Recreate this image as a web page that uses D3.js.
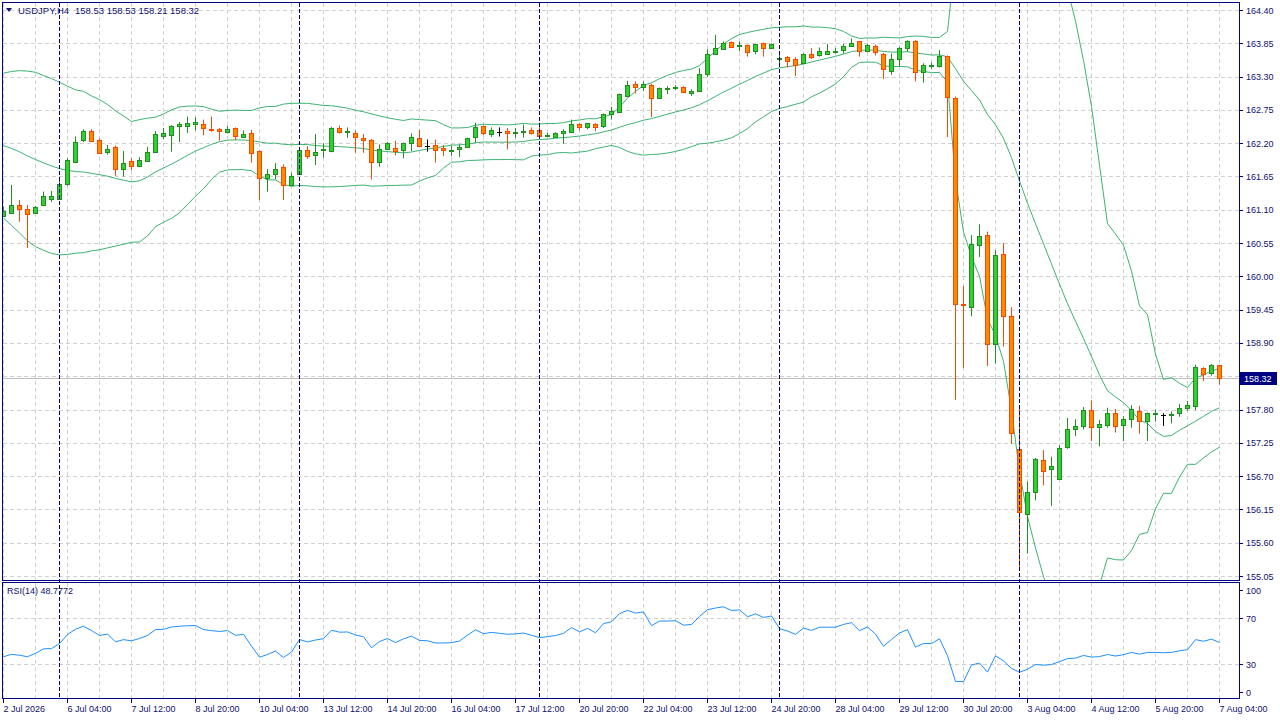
<!DOCTYPE html>
<html>
<head>
<meta charset="utf-8">
<title>USDJPY,H4</title>
<script src="https://cdnjs.cloudflare.com/ajax/libs/d3/7.8.5/d3.min.js"></script>
<style>
    html, body { margin: 0; padding: 0; background: #fff; }
    svg { display: block; }
    text { font-family: "Liberation Sans", Arial, sans-serif; font-size: 9px; fill: #10106e; }
    text.head { font-size: 9.5px; }
</style>
</head>
<body>
<svg id="chart" width="1280" height="720"></svg>
<script>
// H4 bars from 2 Jul 20:00 to 7 Aug 04:00
var opens = [160.99,161.04,161.18,161.11,161.04,161.18,161.28,161.27,161.52,161.89,
    162.25,162.40,162.26,162.06,162.14,161.78,161.90,161.83,161.91,162.06,
    162.32,162.33,162.49,162.49,162.51,162.52,162.43,162.43,162.39,162.45,
    162.30,162.36,162.07,161.62,161.69,161.80,161.51,161.69,162.08,162.00,
    162.08,162.07,162.45,162.38,162.36,162.29,162.26,161.89,162.11,162.12,
    162.09,162.21,162.28,162.15,162.17,162.12,162.08,162.10,162.13,162.30,
    162.48,162.35,162.39,162.40,162.37,162.39,162.42,162.42,162.32,162.31,
    162.36,162.39,162.52,162.46,162.52,162.49,162.69,162.72,162.98,163.17,
    163.12,163.16,162.95,163.10,163.11,163.12,163.03,163.06,163.34,163.67,
    163.75,163.87,163.81,163.82,163.72,163.85,163.78,163.60,163.62,163.59,
    163.52,163.67,163.65,163.68,163.72,163.74,163.81,163.88,163.73,163.80,
    163.68,163.40,163.59,163.78,163.88,163.38,163.48,163.48,163.64,162.94,
    159.55,159.50,160.51,160.68,158.88,160.37,159.34,157.15,156.08,156.44,
    156.96,156.81,156.66,157.18,157.48,157.53,157.79,157.51,157.54,157.74,
    157.55,157.64,157.78,157.61,157.72,157.71,157.72,157.74,157.83,157.86,
    158.48,158.41,158.53];
var highs = [161.15,161.51,161.26,161.18,161.16,161.40,161.41,161.62,161.95,162.31,
    162.43,162.43,162.28,162.17,162.16,162.07,161.95,161.97,162.14,162.40,
    162.45,162.50,162.55,162.64,162.63,162.59,162.64,162.45,162.48,162.46,
    162.41,162.42,162.08,161.77,161.87,161.85,161.71,162.09,162.15,162.35,
    162.20,162.47,162.49,162.46,162.41,162.35,162.27,162.18,162.22,162.24,
    162.21,162.36,162.42,162.26,162.26,162.17,162.16,162.18,162.29,162.54,
    162.49,162.46,162.46,162.45,162.45,162.51,162.46,162.54,162.37,162.38,
    162.43,162.59,162.53,162.53,162.53,162.69,162.80,163.02,163.23,163.22,
    163.22,163.18,163.12,163.14,163.16,163.14,163.09,163.44,163.75,163.99,
    163.88,163.88,163.88,163.83,163.84,163.86,163.85,163.70,163.64,163.62,
    163.69,163.77,163.78,163.84,163.77,163.84,163.93,163.89,163.84,163.83,
    163.69,163.68,163.79,163.90,163.90,163.52,163.53,163.74,163.65,162.97,
    159.84,160.68,160.86,160.74,160.43,160.55,159.49,157.87,156.61,157.00,
    157.13,157.02,157.21,157.66,157.64,157.84,157.95,157.63,157.83,157.81,
    157.69,157.87,157.86,157.75,157.80,157.74,157.77,157.89,157.94,158.54,
    158.50,158.55,158.53];
var lows = [160.98,161.04,160.90,160.47,161.03,161.18,161.23,161.27,161.50,161.87,
    162.22,162.22,162.02,162.01,161.66,161.65,161.75,161.81,161.91,162.05,
    162.27,162.06,162.22,162.37,162.41,162.33,162.39,162.24,162.36,162.25,
    162.29,161.88,161.26,161.40,161.60,161.26,161.49,161.68,161.94,161.84,
    161.96,162.05,162.36,162.29,162.04,162.04,161.60,161.81,162.10,162.00,
    161.95,162.07,162.13,162.06,161.88,161.99,161.99,161.97,162.12,162.21,
    162.33,162.30,162.31,162.10,162.29,162.29,162.34,162.29,162.30,162.29,
    162.19,162.39,162.41,162.43,162.40,162.45,162.59,162.70,162.96,163.02,
    163.06,162.63,162.94,163.01,163.08,163.03,162.98,163.05,163.29,163.66,
    163.74,163.78,163.72,163.63,163.67,163.63,163.78,163.49,163.45,163.31,
    163.50,163.59,163.63,163.66,163.68,163.68,163.79,163.63,163.71,163.65,
    163.26,163.33,163.47,163.71,163.22,163.20,163.43,163.45,162.30,157.96,
    158.49,159.34,160.32,158.52,158.56,158.84,157.23,155.19,155.42,156.30,
    156.55,156.21,156.65,157.15,157.36,157.47,157.28,157.19,157.50,157.42,
    157.28,157.50,157.40,157.28,157.60,157.53,157.57,157.68,157.78,157.79,
    158.27,158.36,158.21];
var closes = [161.08,161.18,161.12,161.03,161.15,161.32,161.33,161.52,161.93,162.22,
    162.40,162.24,162.04,162.11,161.78,161.88,161.83,161.93,162.06,162.35,
    162.36,162.48,162.52,162.54,162.55,162.45,162.42,162.40,162.43,162.32,
    162.35,162.04,161.62,161.69,161.78,161.51,161.66,162.08,161.99,162.06,
    162.11,162.45,162.39,162.40,162.31,162.26,161.89,162.10,162.21,162.07,
    162.20,162.30,162.16,162.15,162.08,162.08,162.09,162.13,162.29,162.46,
    162.37,162.41,162.39,162.37,162.38,162.40,162.36,162.32,162.34,162.36,
    162.40,162.52,162.46,162.53,162.47,162.68,162.73,163.01,163.16,163.12,
    163.17,162.95,163.11,163.11,163.12,163.05,163.07,163.34,163.67,163.77,
    163.85,163.79,163.82,163.71,163.84,163.78,163.84,163.61,163.56,163.49,
    163.68,163.63,163.73,163.73,163.73,163.81,163.86,163.73,163.83,163.70,
    163.42,163.59,163.78,163.89,163.38,163.49,163.49,163.64,162.96,159.55,
    159.53,160.53,160.67,158.88,160.35,159.35,157.41,156.10,156.43,156.98,
    156.79,156.86,157.16,157.48,157.53,157.79,157.51,157.56,157.74,157.53,
    157.64,157.81,157.61,157.74,157.74,157.71,157.73,157.82,157.88,158.50,
    158.39,158.53,158.32];
// closes of the 19 bars left of the window, estimated from where the bands start
var priorCloses = [162.10,162.25,162.40,162.30,162.45,162.35,162.39,
    162.50,162.62,162.55,162.70,162.48,162.60,162.52,162.45,162.41,
    161.55,160.85,160.64];

var priceTicks = [164.40,163.85,163.30,162.75,162.20,161.65,161.10,160.55,160.00,
    159.45,158.90,158.35,157.80,157.25,156.70,156.15,155.60,155.05];
var rsiTicks = [100, 70, 30, 0];
var timeLabelBars = [0,8,16,24,32,40,48,56,64,72,80,88,96,104,112,120,128,136,144,152];
var timeLabels = ["2 Jul 2026","6 Jul 04:00","7 Jul 12:00","8 Jul 20:00","10 Jul 04:00",
    "13 Jul 12:00","14 Jul 20:00","16 Jul 04:00","17 Jul 12:00","20 Jul 20:00",
    "22 Jul 04:00","23 Jul 12:00","24 Jul 20:00","28 Jul 04:00","29 Jul 12:00",
    "30 Jul 20:00","3 Aug 04:00","4 Aug 12:00","5 Aug 20:00","7 Aug 04:00"];
var separatorBars = [7, 37, 67, 97, 127];
var headerSymbol = "USDJPY,H4";
var headerPrices = "158.53 158.53 158.21 158.32";
var rsiTitle = "RSI(14) 48.7772";
var bidPrice = 158.32;

(function () {
    var svg = d3.select("#chart");
    var navy = "#000080";
    var gridColor = "#d0d0d0";
    var n = closes.length;

    var x = d3.scaleLinear().domain([0, n - 1]).range([3.5, 1219.5]);
    var y = d3.scaleLinear().domain([155.05, 164.40]).range([576, 10]);
    var rsiY = d3.scaleLinear().domain([0, 100]).range([698.5, 584]);
    // pixel-snapped bar centre
    function px(i) { return Math.floor(x(i)) + 0.5; }

    var bars = d3.range(n).map(function (i) {
        return { i: i, o: opens[i], h: highs[i], l: lows[i], c: closes[i] };
    });

    // Bollinger bands (20, 2) on close
    var all = priorCloses.concat(closes);
    var off = priorCloses.length;
    var bands = bars.map(function (d) {
        var win = all.slice(d.i + off - 19, d.i + off + 1);
        var m = d3.mean(win);
        var sd = Math.sqrt(d3.mean(win, function (v) { return (v - m) * (v - m); }));
        return { i: d.i, mid: m, up: m + 2 * sd, lo: m - 2 * sd };
    });

    // RSI(14), Wilder smoothing
    var avgG = 0, avgL = 0, rsiAll = [];
    for (var k = 1; k < all.length; k++) {
        var ch = all[k] - all[k - 1];
        var g = ch > 0 ? ch : 0, l = ch < 0 ? -ch : 0;
        if (k <= 14) {
            avgG += g / 14; avgL += l / 14;
        } else {
            avgG = (avgG * 13 + g) / 14; avgL = (avgL * 13 + l) / 14;
        }
        rsiAll[k] = avgL === 0 ? 100 : 100 - 100 / (1 + avgG / avgL);
    }
    var rsi = bars.map(function (d) { return { i: d.i, v: rsiAll[d.i + off] }; });

    var defs = svg.append("defs");
    defs.append("clipPath").attr("id", "clipMain").append("rect")
        .attr("x", 3).attr("y", 3).attr("width", 1236).attr("height", 577);
    defs.append("clipPath").attr("id", "clipRsi").append("rect")
        .attr("x", 3).attr("y", 583).attr("width", 1236).attr("height", 115);

    var main = svg.append("g").attr("clip-path", "url(#clipMain)");
    var sub = svg.append("g").attr("clip-path", "url(#clipRsi)");

    // grid
    var gridBars = d3.range(0, n, 4);
    [[main, 3, 580], [sub, 583, 698]].forEach(function (p) {
        p[0].selectAll("line.vgrid").data(gridBars).enter().append("line")
            .attr("class", "vgrid")
            .attr("x1", px).attr("x2", px)
            .attr("y1", p[1]).attr("y2", p[2])
            .attr("stroke", gridColor).attr("stroke-dasharray", "4,3");
    });
    main.selectAll("line.hgrid").data(priceTicks).enter().append("line")
        .attr("class", "hgrid")
        .attr("x1", 3).attr("x2", 1239)
        .attr("y1", function (d) { return Math.round(y(d)) + 0.5; })
        .attr("y2", function (d) { return Math.round(y(d)) + 0.5; })
        .attr("stroke", gridColor).attr("stroke-dasharray", "4,3");
    sub.selectAll("line.hgrid").data([70, 30]).enter().append("line")
        .attr("class", "hgrid")
        .attr("x1", 3).attr("x2", 1239)
        .attr("y1", function (d) { return Math.round(rsiY(d)) + 0.5; })
        .attr("y2", function (d) { return Math.round(rsiY(d)) + 0.5; })
        .attr("stroke", gridColor).attr("stroke-dasharray", "4,3");

    // week separators across both panels
    svg.selectAll("line.sep").data(separatorBars).enter().append("line")
        .attr("class", "sep")
        .attr("x1", px).attr("x2", px)
        .attr("y1", 3).attr("y2", 698)
        .attr("stroke", navy).attr("stroke-dasharray", "4,2");

    // bid line
    main.append("line")
        .attr("x1", 3).attr("x2", 1239)
        .attr("y1", Math.round(y(bidPrice)) + 0.5).attr("y2", Math.round(y(bidPrice)) + 0.5)
        .attr("stroke", "#c0c0c0");

    // bollinger lines
    var bandColor = "#3cb371";
    ["up", "mid", "lo"].forEach(function (key) {
        main.append("path").datum(bands)
            .attr("fill", "none").attr("stroke", bandColor).attr("stroke-width", 1)
            .attr("d", d3.line()
                .x(function (d) { return x(d.i); })
                .y(function (d) { return y(d[key]); }));
    });

    // candles
    function kind(d) { return d.c > d.o ? "up" : (d.c < d.o ? "down" : "flat"); }
    var wickColor = { up: "#1f8f1f", down: "#ff4500", flat: "#000000" };
    var bodyFill = { up: "#32cd32", down: "#ff8c00", flat: "#000000" };

    var candle = main.selectAll("g.candle").data(bars).enter().append("g").attr("class", "candle");
    candle.append("line")
        .attr("x1", function (d) { return px(d.i); })
        .attr("x2", function (d) { return px(d.i); })
        .attr("y1", function (d) { return y(d.h); })
        .attr("y2", function (d) { return y(d.l); })
        .attr("stroke", function (d) { return wickColor[kind(d)]; });
    candle.filter(function (d) { return kind(d) !== "flat"; }).append("rect")
        .attr("x", function (d) { return px(d.i) - 2; })
        .attr("width", 4)
        .attr("y", function (d) { return Math.round(y(Math.max(d.o, d.c))) + 0.5; })
        .attr("height", function (d) {
            return Math.max(1, Math.round(y(Math.min(d.o, d.c))) - Math.round(y(Math.max(d.o, d.c))));
        })
        .attr("fill", function (d) { return bodyFill[kind(d)]; })
        .attr("stroke", function (d) { return wickColor[kind(d)]; });
    candle.filter(function (d) { return kind(d) === "flat"; }).append("line")
        .attr("x1", function (d) { return px(d.i) - 2.5; })
        .attr("x2", function (d) { return px(d.i) + 2.5; })
        .attr("y1", function (d) { return Math.round(y(d.c)) + 0.5; })
        .attr("y2", function (d) { return Math.round(y(d.c)) + 0.5; })
        .attr("stroke", "#000");

    // rsi line
    sub.append("path").datum(rsi)
        .attr("fill", "none").attr("stroke", "#1e90ff").attr("stroke-width", 1)
        .attr("d", d3.line()
            .x(function (d) { return x(d.i); })
            .y(function (d) { return rsiY(d.v); }));

    // frames
    svg.append("rect").attr("x", 2.5).attr("y", 2.5).attr("width", 1237).attr("height", 578)
        .attr("fill", "none").attr("stroke", navy);
    svg.append("rect").attr("x", 2.5).attr("y", 582.5).attr("width", 1237).attr("height", 116)
        .attr("fill", "none").attr("stroke", navy);

    // price axis
    var shown = priceTicks.filter(function (d) { return Math.abs(d - bidPrice) > 0.1; });
    svg.selectAll("line.ptick").data(shown).enter().append("line")
        .attr("class", "ptick")
        .attr("x1", 1240).attr("x2", 1243)
        .attr("y1", function (d) { return Math.round(y(d)) + 0.5; })
        .attr("y2", function (d) { return Math.round(y(d)) + 0.5; })
        .attr("stroke", navy);
    svg.selectAll("text.plabel").data(shown).enter().append("text")
        .attr("class", "plabel")
        .attr("x", 1246).attr("y", function (d) { return y(d) + 3.5; })
        .text(function (d) { return d.toFixed(2); });

    // bid label
    var by = Math.round(y(bidPrice));
    svg.append("rect").attr("x", 1240).attr("y", by - 6).attr("width", 37).attr("height", 13)
        .attr("fill", navy);
    svg.append("text").attr("x", 1244).attr("y", by + 3.5)
        .style("fill", "#fff").text(bidPrice.toFixed(2));

    // rsi axis
    function clampY(d) { return Math.min(692, Math.max(590, rsiY(d))); }
    svg.selectAll("line.rtick").data(rsiTicks).enter().append("line")
        .attr("class", "rtick")
        .attr("x1", 1240).attr("x2", 1243)
        .attr("y1", function (d) { return Math.round(clampY(d)) + 0.5; })
        .attr("y2", function (d) { return Math.round(clampY(d)) + 0.5; })
        .attr("stroke", navy);
    svg.selectAll("text.rlabel").data(rsiTicks).enter().append("text")
        .attr("class", "rlabel")
        .attr("x", 1246)
        .attr("y", function (d) { return clampY(d) + 3.5; })
        .text(function (d) { return d; });

    // time axis
    svg.selectAll("line.ttick").data(timeLabelBars).enter().append("line")
        .attr("class", "ttick")
        .attr("x1", px).attr("x2", px)
        .attr("y1", 699).attr("y2", 703)
        .attr("stroke", navy);
    svg.selectAll("text.tlabel").data(timeLabelBars).enter().append("text")
        .attr("class", "tlabel")
        .attr("x", function (d) { return x(d); })
        .attr("y", 712)
        .text(function (d, i) { return timeLabels[i]; });

    // titles
    svg.append("path").attr("d", "M6,8 L12,8 L9,12 Z").attr("fill", "#10106e");
    svg.append("text").attr("class", "head").attr("x", 18).attr("y", 14).text(headerSymbol);
    svg.append("text").attr("class", "head").attr("x", 75).attr("y", 14).text(headerPrices);
    svg.append("text").attr("x", 7).attr("y", 594).text(rsiTitle);
})();
</script>
</body>
</html>
